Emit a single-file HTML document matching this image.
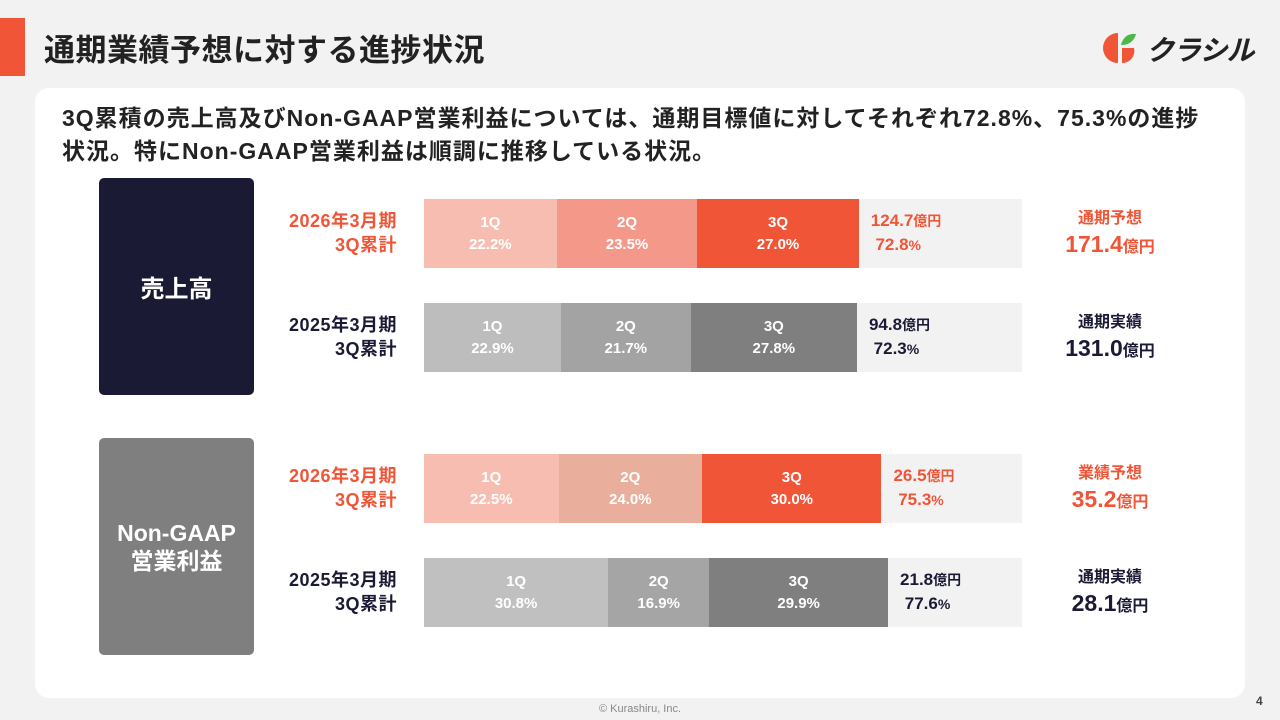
<!DOCTYPE html>
<html><head><meta charset="utf-8"><style>
body{margin:0;width:1280px;height:720px;background:#f2f2f2;font-family:"Liberation Sans","Noto Sans CJK JP",sans-serif;position:relative;overflow:hidden}
.abs{position:absolute}
.card{left:35px;top:88px;width:1210px;height:610px;background:#fff;border-radius:14px}
.seg{position:absolute;color:#fff;font-weight:bold;font-size:15px;text-align:center;line-height:22px;display:flex;flex-direction:column;justify-content:center}
.lab{position:absolute;font-weight:bold;font-size:18px;text-align:right;line-height:24px;width:160px;letter-spacing:0.5px}
.val{position:absolute;font-weight:bold;font-size:17px;line-height:24px;white-space:nowrap}
.val small{font-size:14px}
.rc{position:absolute;text-align:center;width:160px;font-weight:bold;white-space:nowrap}
</style></head><body>
<div class="abs" style="left:0;top:18px;width:25px;height:58px;background:#f05537"></div>
<div class="abs" style="left:44px;top:25px;font-size:31px;font-weight:bold;color:#222;white-space:nowrap;letter-spacing:0.5px">通期業績予想に対する進捗状況</div>
<div class="abs" style="left:1100px;top:30px;width:170px;height:36px;white-space:nowrap">
<svg width="40" height="36" viewBox="0 0 40 36"><path d="M18 3 A15 15 0 0 0 18 33 Z" fill="#f05537"/><path d="M22 18 L34 18 A12 12 0 0 1 22 33 Z" fill="#f05537"/><path d="M21 15 Q24 3 36 4 Q33 15 21 15Z" fill="#4cb848"/></svg>
<span class="abs" style="left:46px;top:-1px;font-size:28px;font-weight:bold;color:#222;font-style:italic;letter-spacing:-1px">クラシル</span></div>
<div class="abs card"></div>
<div class="abs" style="left:62px;top:102px;width:1200px;font-size:23px;font-weight:bold;color:#222;line-height:33px;white-space:nowrap;letter-spacing:1px">3Q累積の売上高及びNon-GAAP営業利益については、通期目標値に対してそれぞれ72.8%、75.3%の進捗<br>状況。特にNon-GAAP営業利益は順調に推移している状況。</div>
<div class="abs" style="left:99px;top:178px;width:155px;height:217px;background:#1b1a35;border-radius:5px;color:#fff;font-size:24px;font-weight:bold;display:flex;align-items:center;justify-content:center">売上高</div>
<div class="abs" style="left:99px;top:438px;width:155px;height:217px;background:#7f7f7f;border-radius:5px;color:#fff;font-size:23px;font-weight:bold;display:flex;align-items:center;justify-content:center;text-align:center;line-height:28px">Non-GAAP<br>営業利益</div>
<div class="abs" style="left:0;width:1280px;top:703px;text-align:center;font-size:11px;color:#888">© Kurashiru, Inc.</div>
<div class="abs" style="left:1256px;top:694px;font-size:12px;color:#444;font-weight:bold">4</div>
<div id="chart"></div>
<script>
const rowLabels=[["2026年3月期","3Q累計"],["2025年3月期","3Q累計"],["2026年3月期","3Q累計"],["2025年3月期","3Q累計"]];
const q1=[22.2,22.9,22.5,30.8];
const q2=[23.5,21.7,24.0,16.9];
const q3=[27.0,27.8,30.0,29.9];
const cumValues=["124.7","94.8","26.5","21.8"];
const cumPct=["72.8","72.3","75.3","77.6"];
const rightTitles=["通期予想","通期実績","業績予想","通期実績"];
const rightValues=["171.4","131.0","35.2","28.1"];
const rowTops=[199,303,454,558];
const colors=[["#f7bdb1","#f4998a","#f05537"],["#bdbdbd","#a3a3a3","#7f7f7f"],["#f7bdb1","#eaae9d","#f05537"],["#c0c0c0","#a5a5a5","#7f7f7f"]];
const X0=424,W=598,H=69;
const xs=p=>X0+p/100*W;
const c=document.getElementById('chart');
for(let i=0;i<4;i++){
 const y=rowTops[i], red=i%2===0, tc=red?"#f05537":"#1b1a35";
 const bg=document.createElement('div');bg.className='abs';
 
 
 bg.style.cssText=`left:${X0}px;top:${y}px;width:${W}px;height:${H}px;background:#f2f2f2`;c.appendChild(bg);
 const vals=[q1[i],q2[i],q3[i]];let acc=0;
 vals.forEach((v,k)=>{const s=document.createElement('div');s.className='seg';
  
  
  const l=xs(acc),r=xs(acc+v);s.style.cssText=`left:${l}px;top:${y}px;width:${r-l}px;height:${H}px;background:${colors[i][k]}`;
  s.innerHTML=`<div>${k+1}Q</div><div>${v.toFixed(1)}%</div>`;c.appendChild(s);acc+=v;});
 const lb=document.createElement('div');lb.className='lab';
 
 
 lb.style.cssText=`left:237px;top:${y+10}px;color:${tc}`;lb.innerHTML=rowLabels[i].join('<br>');c.appendChild(lb);
 const vv=document.createElement('div');vv.className='val';
 
 
 vv.style.cssText=`left:${xs(acc)+12}px;top:${y+10}px;color:${tc}`;
 vv.innerHTML=`${cumValues[i]}<small>億円</small><br>&nbsp;${cumPct[i]}<small>%</small>`;c.appendChild(vv);
 const rc=document.createElement('div');rc.className='rc';
 
 
 rc.style.cssText=`left:1030px;top:${y+9}px;color:${tc}`;
 rc.innerHTML=`<div style="font-size:16px;line-height:21px">${rightTitles[i]}</div><div style="font-size:23px;line-height:30px">${rightValues[i]}<span style="font-size:16px">億円</span></div>`;c.appendChild(rc);
}
</script>
</body></html>
